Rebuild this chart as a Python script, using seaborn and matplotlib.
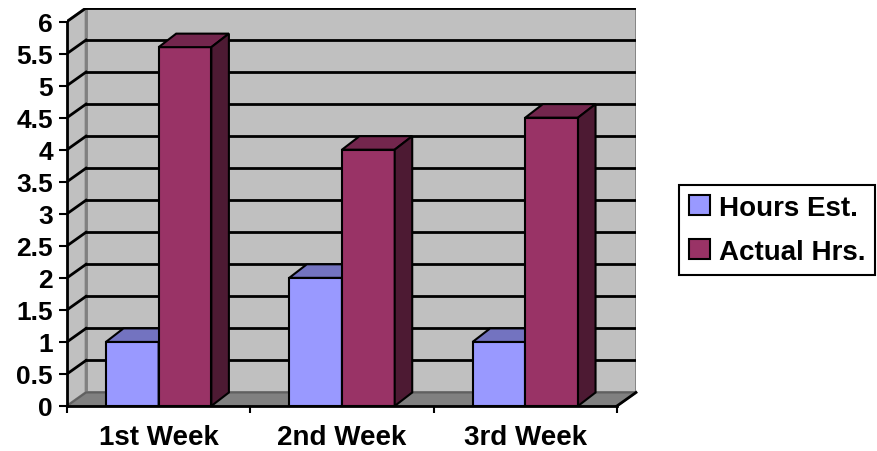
import numpy as np
import pandas as pd
import matplotlib
matplotlib.use("Agg")
import matplotlib.pyplot as plt
from matplotlib.patches import Polygon, Rectangle
import seaborn as sns

weeks = ["1st Week", "2nd Week", "3rd Week"]
hours_est = [1, 2, 1]
actual_hrs = [5.6, 4, 4.5]
series = ["Hours Est.", "Actual Hrs."]

front_cols = ["#9999FF", "#993366"]
top_cols = ["#7373C0", "#73264D"]
side_cols = ["#4D4D80", "#4D1A33"]

df = pd.DataFrame({
    "week": weeks * 2,
    "hours": hours_est + actual_hrs,
    "series": [series[0]] * 3 + [series[1]] * 3,
})

plt.rcParams["font.family"] = ["Liberation Sans", "DejaVu Sans"]
plt.rcParams["font.weight"] = "bold"

fig = plt.figure(figsize=(8.78, 4.52), dpi=100)
# depth of walls / bars in data units (oblique projection)
wdx, wdy = 19 / 183.0, 13.5 / 64.0
bdx, bdy = 17.5 / 183.0, 13.5 / 64.0
ax = fig.add_axes([67 / 878, 45 / 452, (636 - 67) / 878, (407 - 9) / 452])

# walls and floor
ax.add_patch(Polygon([(-0.5 + wdx, wdy), (2.5 + wdx, wdy), (2.5 + wdx, 6 + wdy), (-0.5 + wdx, 6 + wdy)],
                     closed=True, fc="#C0C0C0", ec="#808080", lw=2, zorder=1))
ax.add_patch(Polygon([(-0.5, 0), (-0.5, 6), (-0.5 + wdx, 6 + wdy), (-0.5 + wdx, wdy)],
                     closed=True, fc="#C0C0C0", ec="#808080", lw=2, zorder=1))
ax.add_patch(Polygon([(-0.5, 0), (2.5, 0), (2.5 + wdx, wdy), (-0.5 + wdx, wdy)],
                     closed=True, fc="#808080", ec="#606060", lw=1.5, zorder=1))

# gridlines
for v in np.arange(0.5, 6.01, 0.5):
    ax.plot([-0.5 + wdx, 2.5 + wdx], [v + wdy, v + wdy], color="black", lw=2, zorder=2)
    ax.plot([-0.5, -0.5 + wdx], [v, v + wdy], color="black", lw=2, zorder=2)
ax.plot([2.5, 2.5 + wdx], [0, wdy], color="black", lw=2, zorder=2, clip_on=False)

sns.barplot(data=df, x="week", y="hours", hue="series", palette=front_cols,
            width=0.575, edgecolor="black", linewidth=1.5, saturation=1,
            legend=False, ax=ax)

for i, cont in enumerate(ax.containers):
    for p in cont.patches:
        x0 = p.get_x()
        x1 = x0 + p.get_width()
        h = p.get_height()
        p.set_zorder(3 + i)
        ax.add_patch(Polygon([(x0, h), (x1, h), (x1 + bdx, h + bdy), (x0 + bdx, h + bdy)],
                             closed=True, fc=top_cols[i], ec="black", lw=1.5, zorder=3 + i))
        ax.add_patch(Polygon([(x1, 0), (x1, h), (x1 + bdx, h + bdy), (x1 + bdx, bdy)],
                             closed=True, fc=side_cols[i], ec="black", lw=1.5, zorder=3 + i))

ax.set_xlim(-0.5, 2.5 + wdx)
ax.set_ylim(0, 6 + wdy)

for s in ["top", "right"]:
    ax.spines[s].set_visible(False)
ax.spines["left"].set_bounds(0, 6)
ax.spines["bottom"].set_bounds(-0.5, 2.5)
for s in ["left", "bottom"]:
    ax.spines[s].set_linewidth(2)
    ax.spines[s].set_color("black")
    ax.spines[s].set_zorder(6)

yt = np.arange(0, 6.01, 0.5)
ax.set_yticks(yt)
ax.set_yticklabels([f"{v:g}" for v in yt])
ax.tick_params(axis="y", direction="out", length=6, width=1.5, pad=4, labelsize=19)
ax.set_xticks([0, 1, 2])
ax.set_xticklabels(weeks)
ax.set_xticks([-0.5, 0.5, 1.5, 2.5], minor=True)
ax.tick_params(axis="x", which="major", length=0, pad=13, labelsize=20)
ax.tick_params(axis="x", which="minor", direction="out", length=5, width=1.5)
for lab in ax.get_xticklabels() + ax.get_yticklabels():
    lab.set_fontweight("bold")
ax.set_xlabel("")
ax.set_ylabel("")

handles = [Rectangle((0, 0), 1, 1, fc=front_cols[i], ec="black", lw=1.5) for i in range(2)]
leg = fig.legend(handles, series, loc="upper left", bbox_to_anchor=(679 / 878, 1 - 186 / 452),
                 frameon=True, fancybox=False, edgecolor="black", framealpha=1,
                 prop={"size": 20, "weight": "bold"}, handlelength=0.75, handleheight=0.75,
                 handletextpad=0.35, labelspacing=0.65, borderpad=0.35, borderaxespad=0)
leg.get_frame().set_linewidth(1.5)

fig.savefig("out.png", dpi=100)
